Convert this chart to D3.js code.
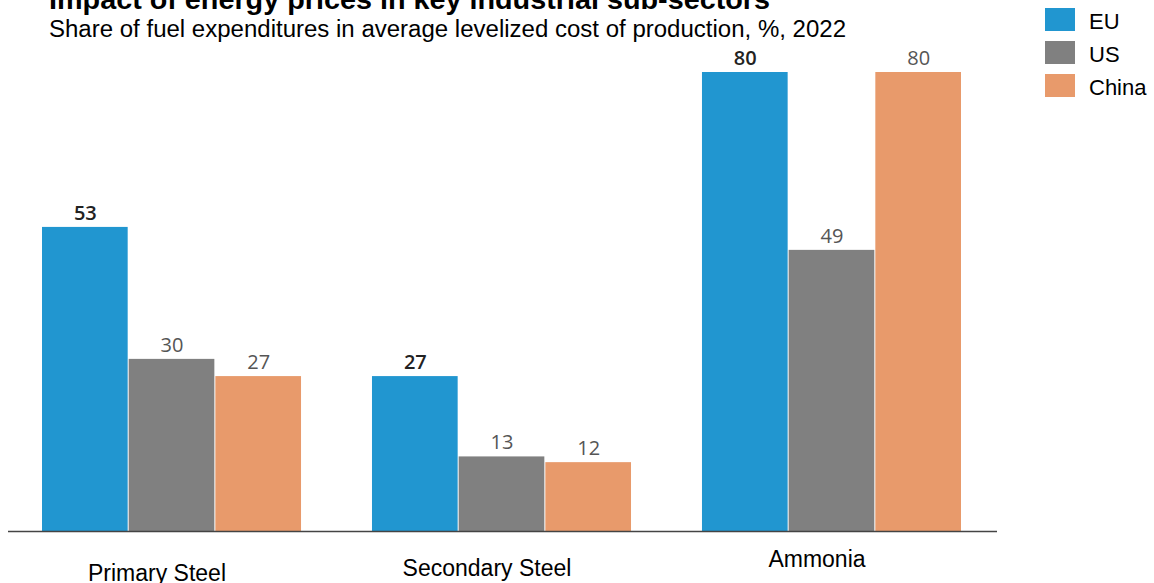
<!DOCTYPE html>
<html>
<head>
<meta charset="utf-8">
<script src="https://cdn.jsdelivr.net/npm/d3@7"></script>
<style>
  body { margin: 0; background: #fff; }
  svg { display: block; }
</style>
</head>
<body>
<div id="chart"></div>
<script>
var categories = ["Primary Steel", "Secondary Steel", "Ammonia"];
var seriesNames = ["EU", "US", "China"];
var euValues = [53, 27, 80];
var usValues = [30, 13, 49];
var chinaValues = [27, 12, 80];

var colors = ["#2196d0", "#808080", "#e89a6b"];
// the source has its category labels staggered
var labelY = [581, 576, 567];

var width = 1154, height = 583;
var baseY = 531;

var svg = d3.select("#chart")
    .append("svg")
    .attr("width", width)
    .attr("height", height);

var rows = categories.map(function(c, i) {
    return { cat: c, vals: [euValues[i], usValues[i], chinaValues[i]] };
});

var x0 = d3.scaleBand()
    .domain(categories)
    .range([42, 962])
    .paddingInner(0.212)
    .paddingOuter(0);

var x1 = d3.scaleBand()
    .domain(seriesNames)
    .range([0, x0.bandwidth()])
    .padding(0);

var y = d3.scaleLinear()
    .domain([0, 80])
    .range([baseY, 72]);

// title (cut off at top like the source)
svg.append("text")
    .attr("x", 49)
    .attr("y", 9)
    .style("font-family", "Liberation Sans, Arial, sans-serif")
    .style("font-weight", "bold")
    .style("font-size", "28px")
    .attr("textLength", 721)
    .attr("lengthAdjust", "spacingAndGlyphs")
    .attr("fill", "#000")
    .text("Impact of energy prices in key industrial sub-sectors");

svg.append("text")
    .attr("x", 49)
    .attr("y", 37)
    .style("font-family", "Liberation Sans, Arial, sans-serif")
    .style("font-size", "23px")
    .attr("textLength", 797)
    .attr("lengthAdjust", "spacingAndGlyphs")
    .attr("fill", "#000")
    .text("Share of fuel expenditures in average levelized cost of production, %, 2022");

var groups = svg.selectAll(".grp")
    .data(rows)
    .enter().append("g")
    .attr("class", "grp")
    .attr("transform", function(d) { return "translate(" + x0(d.cat) + ",0)"; });

groups.selectAll("rect")
    .data(function(d) { return d.vals.map(function(v, i) { return { s: seriesNames[i], v: v, i: i }; }); })
    .enter().append("rect")
    .attr("x", function(d) { return x1(d.s); })
    .attr("y", function(d) { return y(d.v); })
    .attr("width", x1.bandwidth() - 1)
    .attr("height", function(d) { return baseY - y(d.v); })
    .attr("fill", function(d) { return colors[d.i]; });

groups.selectAll(".val")
    .data(function(d) { return d.vals.map(function(v, i) { return { s: seriesNames[i], v: v, i: i }; }); })
    .enter().append("text")
    .attr("class", "val")
    .attr("x", function(d) { return x1(d.s) + x1.bandwidth() / 2; })
    .attr("y", function(d) { return y(d.v) - 7; })
    .attr("text-anchor", "middle")
    .style("font-family", "Open Sans, Noto Sans, sans-serif")
    .style("font-size", "20px")
    .style("font-weight", function(d) { return d.i == 0 ? "600" : "normal"; })
    .attr("fill", function(d) { return d.i == 0 ? "#222" : "#555"; })
    .text(function(d) { return d.v; });

// baseline
svg.append("line")
    .attr("x1", 8)
    .attr("x2", 997)
    .attr("y1", baseY + 0.5)
    .attr("y2", baseY + 0.5)
    .attr("stroke", "#444")
    .attr("stroke-width", 1.5);

// category labels
svg.selectAll(".cat")
    .data(categories)
    .enter().append("text")
    .attr("class", "cat")
    .attr("x", function(d) { return x0(d) + x0.bandwidth() / 2 - 15; })
    .attr("y", function(d, i) { return labelY[i]; })
    .attr("text-anchor", "middle")
    .style("font-family", "Liberation Sans, Arial, sans-serif")
    .style("font-size", "23px")
    .attr("fill", "#000")
    .text(function(d) { return d; });

// legend
var legend = svg.selectAll(".leg")
    .data(seriesNames)
    .enter().append("g")
    .attr("class", "leg")
    .attr("transform", function(d, i) { return "translate(1045," + (8 + i * 33) + ")"; });

legend.append("rect")
    .attr("width", 30)
    .attr("height", 23)
    .attr("fill", function(d, i) { return colors[i]; });

legend.append("text")
    .attr("x", 44)
    .attr("y", 21)
    .style("font-family", "Liberation Sans, Arial, sans-serif")
    .style("font-size", "22px")
    .attr("fill", "#000")
    .text(function(d) { return d; });
</script>
</body>
</html>
